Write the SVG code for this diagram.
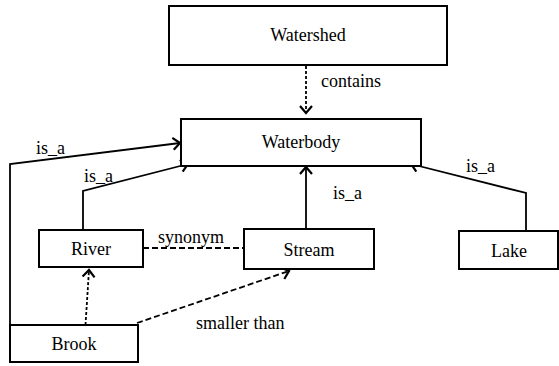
<svg xmlns="http://www.w3.org/2000/svg" width="559" height="366" viewBox="0 0 559 366">
<style>
.box{fill:#fff;stroke:#000;stroke-width:2}
.t{font-family:"Liberation Serif","Times New Roman",serif;font-size:18px;fill:#000}
.c{text-anchor:middle}
.ln{fill:none;stroke:#000;stroke-width:1.8}
.dash{stroke-dasharray:6,3}
.dot{stroke-dasharray:3,2}
</style>
<defs>
<marker id="ah" viewBox="-10 -8 12 16" markerWidth="12" markerHeight="16" refX="0" refY="0" orient="auto" markerUnits="userSpaceOnUse">
<path d="M-7,-6 L0,0 L-7,6" fill="none" stroke="#000" stroke-width="2.2"/>
</marker>
</defs>
<rect width="559" height="366" fill="#fff"/>
<g id="connectors">
<path class="ln dot" d="M306,66 V113" marker-end="url(#ah)"/>
<path class="ln" d="M306,229 V167" marker-end="url(#ah)"/>
<path class="ln" d="M83,229 V191 L188,164" marker-end="url(#ah)"/>
<path class="ln" d="M10,325 V164 L180,143" marker-end="url(#ah)"/>
<path class="ln" d="M526,231 V193 L411,164" marker-end="url(#ah)"/>
<path class="ln dash" d="M143,248 H243"/>
<path class="ln dot" d="M85.5,325 L89,270" marker-end="url(#ah)"/>
<path class="ln dash" d="M137,323 L289,271" marker-end="url(#ah)"/>
<text class="t" x="321" y="87">contains</text>
<text class="t" x="333" y="199">is_a</text>
<text class="t" x="84" y="182">is_a</text>
<text class="t" x="36" y="154">is_a</text>
<text class="t" x="466" y="172">is_a</text>
<text class="t" x="158" y="243">synonym</text>
<text class="t" x="196" y="329">smaller than</text>
</g>
<g id="watershed"><rect class="box" x="169" y="6" width="278" height="59"/><text class="t c" x="308" y="41">Watershed</text></g>
<g id="waterbody"><rect class="box" x="181" y="119" width="240" height="47"/><text class="t c" x="301" y="148">Waterbody</text></g>
<g id="river"><rect class="box" x="39" y="230" width="104" height="37"/><text class="t c" x="91" y="255">River</text></g>
<g id="stream"><rect class="box" x="244" y="229" width="130" height="40"/><text class="t c" x="309" y="256">Stream</text></g>
<g id="lake"><rect class="box" x="459" y="231" width="99" height="38"/><text class="t c" x="509" y="257">Lake</text></g>
<g id="brook"><rect class="box" x="10" y="325" width="128" height="37"/><text class="t c" x="74" y="350">Brook</text></g>
</svg>
